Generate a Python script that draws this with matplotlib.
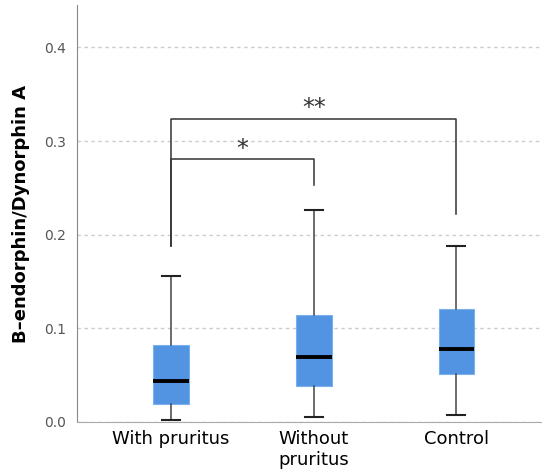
import matplotlib.pyplot as plt

groups = ["With pruritus", "Without\npruritus", "Control"]
whis_low = [0.002, 0.005, 0.0075]
q1 = [0.019, 0.038, 0.051]
medians = [0.044, 0.069, 0.078]
q3 = [0.082, 0.114, 0.1205]
whis_high = [0.156, 0.226, 0.188]

# significance brackets: (left group, right group, bar height, left leg end, right leg end, label)
brackets = [
    (1, 2, 0.281, 0.188, 0.2535, "*"),
    (1, 3, 0.324, 0.188, 0.222, "**"),
]

stats = []
for i, g in enumerate(groups):
    stats.append({"label": g, "whislo": whis_low[i], "q1": q1[i], "med": medians[i],
                  "q3": q3[i], "whishi": whis_high[i], "fliers": []})

fig = plt.figure(figsize=(5.42, 4.75), dpi=100)
ax = fig.add_axes([0.142, 0.1116, 0.858, 0.8774])

ax.bxp(stats, positions=[1, 2, 3], widths=0.25, patch_artist=True, showfliers=False,
       boxprops=dict(facecolor="#5294e2", edgecolor="#7ab0ee", linewidth=0.8),
       medianprops=dict(color="black", linewidth=2.8, solid_capstyle="butt"),
       whiskerprops=dict(color="#444444", linewidth=1.1),
       capprops=dict(color="#222222", linewidth=1.5), capwidths=0.126)

for a, b, h, la, lb, lab in brackets:
    ax.plot([a, a, b, b], [la, h, h, lb], color="#333333", linewidth=1.1)
    ax.text((a + b) / 2, h - 0.002, lab, ha="center", va="bottom", fontsize=17,
            color="#333333")

ax.set_xlim(0.34, 3.6)
ax.set_ylim(0, 0.445)
ax.set_yticks([0.0, 0.1, 0.2, 0.3, 0.4])
ax.set_yticklabels(["0.0", "0.1", "0.2", "0.3", "0.4"])
ax.yaxis.grid(True, linestyle=(0, (2.5, 2.5)), color="#cccccc", linewidth=1)
ax.set_axisbelow(True)
ax.tick_params(axis="y", length=0, labelsize=10, labelcolor="#555555", pad=8)
ax.tick_params(axis="x", length=0, labelsize=13, pad=6)
for s in ["top", "right"]:
    ax.spines[s].set_visible(False)
ax.spines["left"].set_color("#888888")
ax.spines["bottom"].set_color("#aaaaaa")
ax.set_ylabel("B\u2013endorphin/Dynorphin A", fontsize=13, fontweight="bold", labelpad=10)

fig.savefig("out.png", dpi=100)
